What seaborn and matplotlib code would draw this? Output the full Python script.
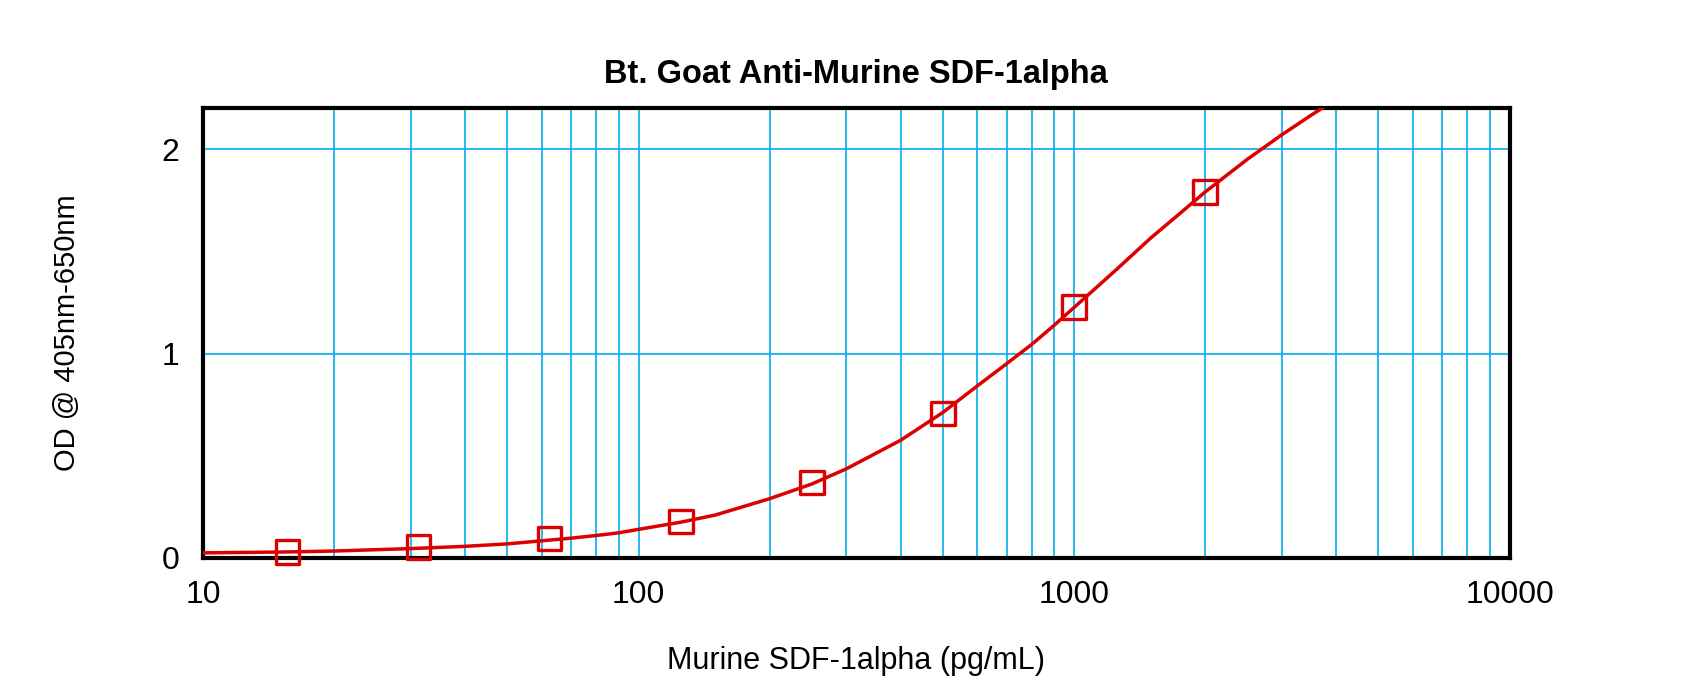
import numpy as np
import pandas as pd
import matplotlib
matplotlib.use("Agg")
import matplotlib.pyplot as plt
from matplotlib.ticker import LogLocator, FixedLocator, MultipleLocator, FuncFormatter, NullFormatter
import seaborn as sns

# standards (pg/mL) and measured OD
std_conc = [15.625, 31.25, 62.5, 125, 250, 500, 1000, 2000]
std_od = [0.028, 0.054, 0.096, 0.178, 0.369, 0.707, 1.229, 1.79]

# fitted curve
curve_conc = [10, 15, 20, 30, 40, 50, 60, 70, 80, 90, 100, 125, 150, 200, 250, 300,
              400, 500, 600, 700, 800, 900, 1000, 1250, 1500, 1750, 2000, 2500, 3000, 3500, 4000]
curve_od = [0.025, 0.029, 0.034, 0.046, 0.057, 0.069, 0.084, 0.097, 0.110, 0.123, 0.140,
            0.175, 0.210, 0.290, 0.362, 0.436, 0.576, 0.712, 0.842, 0.950, 1.045, 1.138,
            1.225, 1.410, 1.565, 1.685, 1.790, 1.950, 2.070, 2.165, 2.245]

x_ticks = [10, 100, 1000, 10000]
y_ticks = [0, 1, 2]

title = "Bt. Goat Anti-Murine SDF-1alpha"
x_label = "Murine SDF-1alpha (pg/mL)"
y_label = "OD @ 405nm-650nm"

red = "#DD0000"
grid_blue = "#00AEEF"

sns.set_style("white")
plt.rcParams["font.family"] = ["Liberation Sans", "DejaVu Sans"]
plt.rcParams["text.color"] = "black"

std_df = pd.DataFrame({"conc": std_conc, "od": std_od})
curve_df = pd.DataFrame({"conc": curve_conc, "od": curve_od})

fig = plt.figure(figsize=(17, 6.91), dpi=100)
ax = fig.add_axes([0.1194, 0.1925, 0.7686, 0.651])

sns.lineplot(data=curve_df, x="conc", y="od", color=red, linewidth=2.5, ax=ax, zorder=3)
sns.scatterplot(data=std_df, x="conc", y="od", marker="s", s=290, facecolors="none",
                edgecolor=red, linewidth=2.4, ax=ax, zorder=4, clip_on=False)

ax.set_xscale("log")
ax.set_xlim(10, 10000)
ax.set_ylim(0, 2.2)

ax.xaxis.set_major_locator(FixedLocator(x_ticks))
ax.xaxis.set_minor_locator(LogLocator(base=10, subs=np.arange(2, 10)))
ax.xaxis.set_major_formatter(FuncFormatter(lambda v, p: f"{v:g}"))
ax.xaxis.set_minor_formatter(NullFormatter())
ax.yaxis.set_major_locator(FixedLocator(y_ticks))
ax.yaxis.set_minor_locator(MultipleLocator(0.2))

ax.grid(True, which="both", axis="x", color=grid_blue, linewidth=1.2)
ax.grid(True, which="major", axis="y", color=grid_blue, linewidth=1.2)
ax.set_axisbelow(True)

for s in ax.spines.values():
    s.set_linewidth(3)
    s.set_color("black")
    s.set_visible(True)

ax.tick_params(axis="both", which="both", direction="out", colors="black",
               labelcolor="black", labelsize=23)
ax.tick_params(axis="x", which="major", length=11, width=1, pad=5)
ax.tick_params(axis="x", which="minor", length=5, width=1.6)
ax.tick_params(axis="y", which="major", length=12, width=1.6, pad=5)
ax.tick_params(axis="y", which="minor", length=4, width=1.6)

ax.set_title(title, fontsize=23.5, fontweight="bold", pad=18, color="black")
ax.set_xlabel(x_label, fontsize=22, color="black")
ax.set_ylabel(y_label, fontsize=21, color="black")
ax.xaxis.set_label_coords(0.5, -0.195)
ax.yaxis.set_label_coords(-0.093, 0.5)

fig.savefig("out.png", dpi=100)
